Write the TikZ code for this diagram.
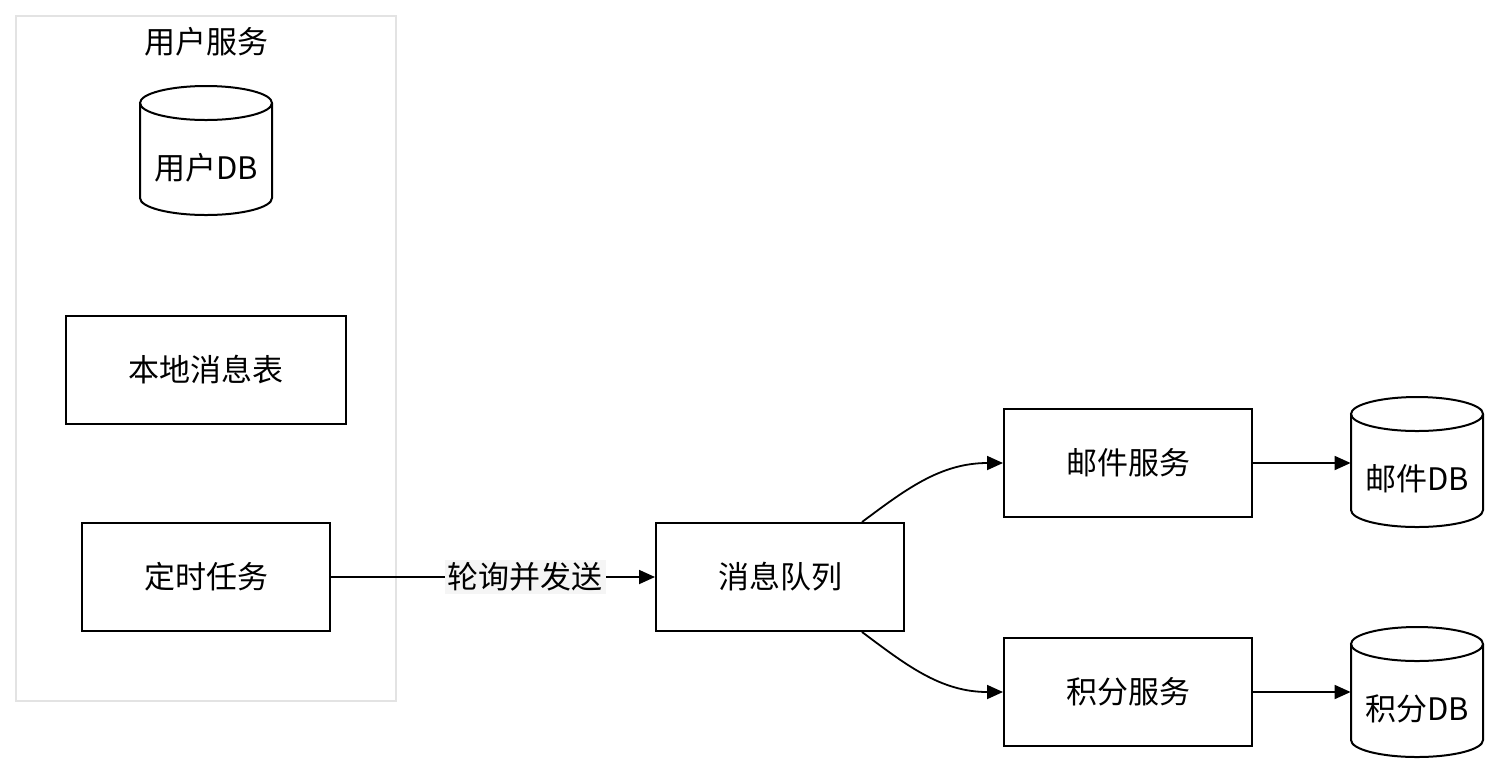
\documentclass[tikz,border=0pt]{standalone}
\usepackage{fontspec}
\setmainfont{Noto Sans CJK SC}
\usetikzlibrary{arrows.meta}
\newcommand\dbcyl[5]{% name, cx, top, bottom, text
  \node[minimum width=66pt, minimum height={(#4-#3)*0.5pt}, inner sep=0pt] (#1) at (#2,{(#3+#4)/2}) {};
  \draw[line width=1pt] (#2,#3+17) ellipse[x radius=33pt, y radius=8.5pt];
  \draw[line width=1pt] (#2-66,#3+17) -- (#2-66,#4-17) arc[start angle=180, end angle=360, x radius=33pt, y radius=8.5pt] -- (#2+66,#3+17);
  \node (#1t) at (#2,{(#3+34+#4)/2}) {#5};
}
\begin{document}
\begin{tikzpicture}[x=0.5pt,y=-0.5pt,
  every node/.style={font=\fontsize{15.5pt}{18pt}\selectfont},
  box/.style={draw, line width=1pt, minimum width=124pt, minimum height=54pt, inner sep=0pt},
  arr/.style={-{Triangle[length=8pt,width=7pt]}, line width=0.9pt}]
\useasboundingbox (0,0) rectangle (1499,773);
\fill[white] (0,0) rectangle (1499,773);
\draw[gray!22, line width=1pt] (16,16) rectangle (396,701);
\node (title) at (206,42) {用户服务};
\dbcyl{udb}{206}{86}{215}{用户DB}
\node[box, minimum width=140pt] (tbl) at (206,370) {本地消息表};
\node[box] (task) at (206,577) {定时任务};
\node[box] (mq) at (780,577) {消息队列};
\node[box] (mail) at (1128,463) {邮件服务};
\node[box] (pts) at (1128,692) {积分服务};
\dbcyl{mdb}{1417}{397}{527}{邮件DB}
\dbcyl{pdb}{1417}{627}{757}{积分DB}
\draw[arr] (task.east) -- node[pos=0.6, fill=gray!8, inner sep=1.5pt] (lbl) {轮询并发送} (mq.west);
\draw[arr] ([xshift=41pt]mq.north) .. controls (905,490) and (940,463) .. (mail.west);
\draw[arr] ([xshift=41pt]mq.south) .. controls (905,664) and (940,692) .. (pts.west);
\draw[arr] (mail.east) -- (mdb.west |- mail.east);
\draw[arr] (pts.east) -- (pdb.west |- pts.east);
\end{tikzpicture}
\end{document}
